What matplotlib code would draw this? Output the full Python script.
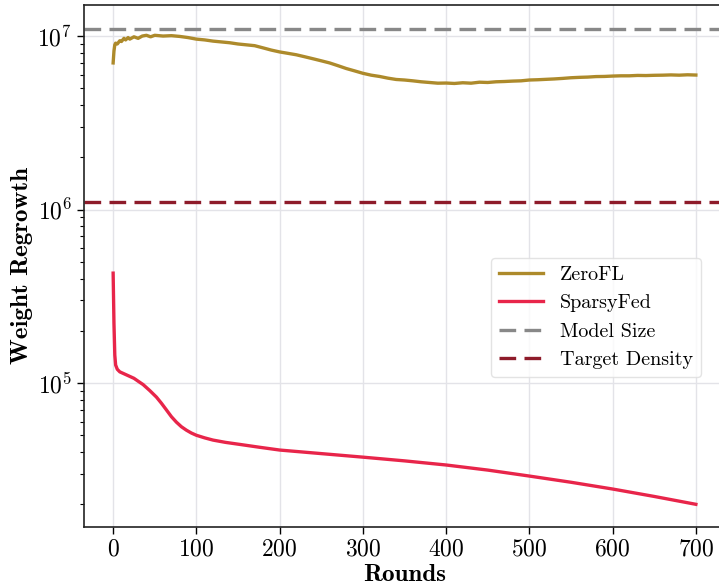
import numpy as np
import matplotlib
matplotlib.use("Agg")
import matplotlib.pyplot as plt

plt.rcParams['font.family'] = ['cmr10', 'DejaVu Serif']
plt.rcParams['mathtext.fontset'] = 'cm'
plt.rcParams['axes.formatter.use_mathtext'] = True

# ZeroFL weight regrowth
zerofl_rounds = [0, 1, 2, 3, 5, 8, 10, 13, 15, 18, 20, 25, 30, 35, 40, 45, 50, 55, 60,
                 70, 80, 90, 100, 110, 120, 130, 140, 150, 160, 170, 180, 190, 200,
                 210, 220, 230, 240, 250, 260, 270, 280, 290, 300, 310, 320, 330, 340,
                 350, 360, 370, 380, 390, 400, 410, 420, 430, 440, 450, 460, 470, 480,
                 490, 500, 510, 520, 530, 540, 550, 560, 570, 580, 590, 600, 610, 620,
                 630, 640, 650, 660, 670, 680, 690, 700]
zerofl_vals = [7.0e6, 8.2e6, 8.9e6, 9.1e6, 9.0e6, 9.4e6, 9.3e6, 9.7e6, 9.5e6, 9.8e6,
               9.6e6, 9.9e6, 9.7e6, 1.0e7, 1.01e7, 9.9e6, 1.01e7, 1.005e7, 1.0e7,
               1.005e7, 9.95e6, 9.8e6, 9.6e6, 9.5e6, 9.35e6, 9.25e6, 9.15e6, 9.0e6,
               8.9e6, 8.8e6, 8.55e6, 8.3e6, 8.1e6, 7.95e6, 7.8e6, 7.6e6, 7.4e6, 7.2e6,
               7.0e6, 6.75e6, 6.5e6, 6.3e6, 6.1e6, 5.95e6, 5.85e6, 5.72e6, 5.62e6,
               5.58e6, 5.52e6, 5.45e6, 5.4e6, 5.35e6, 5.36e6, 5.33e6, 5.38e6, 5.35e6,
               5.42e6, 5.4e6, 5.45e6, 5.47e6, 5.5e6, 5.52e6, 5.58e6, 5.6e6, 5.63e6,
               5.66e6, 5.7e6, 5.75e6, 5.78e6, 5.8e6, 5.84e6, 5.85e6, 5.88e6, 5.9e6,
               5.9e6, 5.93e6, 5.92e6, 5.94e6, 5.95e6, 5.97e6, 5.95e6, 5.98e6, 5.96e6]

# SparsyFed weight regrowth
sparsy_rounds = [0, 1, 2, 3, 5, 8, 15, 25, 30, 36, 44, 52, 58, 64, 70, 76, 82, 88, 94,
                 100, 110, 120, 135, 152, 175, 200, 250, 300, 350, 400, 450, 500, 550,
                 600, 650, 700]
sparsy_vals = [4.3e5, 2.2e5, 1.45e5, 1.27e5, 1.2e5, 1.16e5, 1.12e5, 1.065e5, 1.025e5,
               9.8e4, 9.05e4, 8.3e4, 7.65e4, 7.0e4, 6.4e4, 5.95e4, 5.6e4, 5.35e4,
               5.15e4, 5.0e4, 4.83e4, 4.69e4, 4.55e4, 4.43e4, 4.27e4, 4.11e4, 3.92e4,
               3.74e4, 3.56e4, 3.37e4, 3.15e4, 2.91e4, 2.68e4, 2.45e4, 2.22e4, 2.0e4]

model_size = 1.1e7
target_density = 1.1e6

fig = plt.figure(figsize=(7.19, 5.88), dpi=100)
ax = fig.add_axes([84 / 719, 61 / 588, 641 / 719, 522 / 588])

ax.plot(zerofl_rounds, zerofl_vals, color='#AD8A2B', lw=2.4, label='ZeroFL')
ax.plot(sparsy_rounds, sparsy_vals, color='#E8254A', lw=2.4, label='SparsyFed')
ax.axhline(model_size, color='#888888', lw=2.4, ls=(0, (5, 2.5)), label='Model Size')
ax.axhline(target_density, color='#8E1B2A', lw=2.4, ls=(0, (5, 2.5)), label='Target Density')

ax.set_yscale('log')
ax.set_xlim(-35, 735)
ax.set_ylim(1.48e4, 1.51e7)
ax.set_xticks(range(0, 701, 100))
ax.grid(True, which='major', color='#e3e3e8', lw=1.0)
ax.set_axisbelow(True)
ax.tick_params(axis='both', which='major', labelsize=17, length=5, width=1.0)
ax.tick_params(axis='y', which='minor', length=3, width=0.8)
for s in ax.spines.values():
    s.set_color('#222222')
    s.set_linewidth(1.2)

ax.set_xlabel('Rounds', fontsize=18, fontfamily='cmb10', labelpad=2)
ax.set_ylabel('Weight Regrowth', fontsize=18, fontfamily='cmb10', labelpad=3)

leg = ax.legend(loc='upper left', bbox_to_anchor=(0.635, 0.515), borderaxespad=0,
                fontsize=14.5, frameon=True, fancybox=True, handlelength=2.2)
leg.get_frame().set_edgecolor('#dddddd')
leg.get_frame().set_linewidth(1.0)

fig.savefig('out.png', dpi=100)
